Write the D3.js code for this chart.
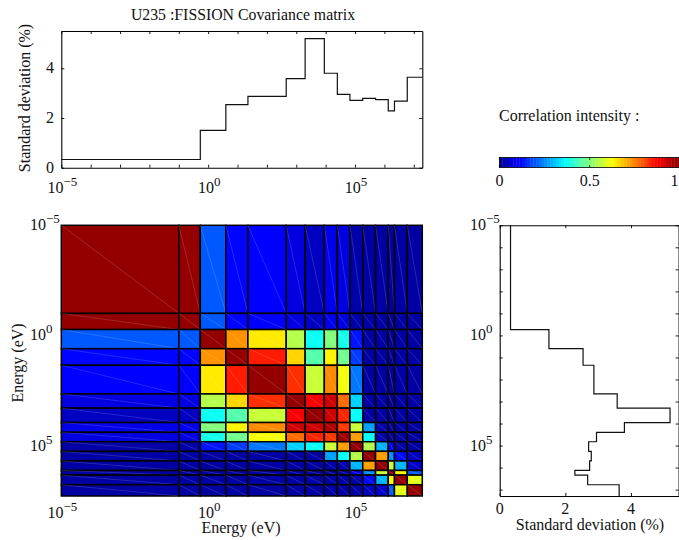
<!DOCTYPE html>
<html><head><meta charset="utf-8">
<script src="https://cdn.jsdelivr.net/npm/d3@7"></script>
<style>
html,body{margin:0;padding:0;background:#fff;overflow:hidden}
svg{display:block}
text{font-family:"Liberation Serif",serif;fill:#111}
</style></head><body>
<svg id="c" width="679" height="540"></svg>
<script>
const titleText = "U235 :FISSION Covariance matrix";
const energyLabel = "Energy (eV)";
const sdLabel = "Standard deviation (%)";
const legendLabel = "Correlation intensity :";
const energyEdges = [1e-5,1e-1,0.54,4,22.6,454,2000,9000,25000,67000,183000,500000,1.35e6,2.2e6,6e6,1.95e7];
const stdDev = [0.33,0.33,1.5,2.54,2.87,3.58,5.19,3.8,2.95,2.71,2.79,2.74,2.29,2.68,3.64];
const decades = [1e-5,1e-4,1e-3,1e-2,1e-1,1e0,1e1,1e2,1e3,1e4,1e5,1e6,1e7];
const labelledDecades = [-5,0,5];
const sdTicks = [0,2,4];
const colorbarTicks = [0,0.5,1];
const correlationRows = [
[.98,.98,.20,.115,.11,.08,.05,.09,.08,.025,.02,.02,.02,.02,.02],
[.98,.98,.20,.115,.11,.08,.05,.09,.08,.025,.02,.02,.02,.02,.02],
[.20,.20,.98,.73,.645,.55,.375,.50,.385,.13,.02,.02,.02,.02,.02],
[.115,.115,.73,.98,.85,.665,.45,.635,.48,.17,.02,.02,.02,.02,.02],
[.11,.11,.645,.85,.98,.83,.57,.74,.615,.23,.02,.02,.02,.02,.02],
[.08,.08,.55,.665,.83,.98,.88,.92,.77,.32,.02,.02,.02,.02,.02],
[.05,.05,.375,.45,.57,.88,.98,.92,.84,.37,.02,.02,.02,.02,.02],
[.09,.09,.50,.635,.74,.92,.92,.95,.82,.57,.27,.03,.02,.02,.02],
[.08,.08,.385,.48,.615,.77,.84,.82,.97,.72,.37,.03,.02,.02,.02],
[.025,.025,.13,.17,.23,.32,.37,.57,.72,.98,.55,.29,.10,.02,.02],
[.02,.02,.02,.02,.02,.02,.02,.27,.37,.55,.98,.72,.25,.12,.05],
[.02,.02,.02,.02,.02,.02,.02,.03,.03,.29,.72,.98,.57,.29,.06],
[.02,.02,.02,.02,.02,.02,.02,.02,.02,.10,.25,.57,.97,.63,.20],
[.02,.02,.02,.02,.02,.02,.02,.02,.02,.02,.12,.29,.63,.98,.60],
[.02,.02,.02,.02,.02,.02,.02,.02,.02,.02,.05,.06,.20,.60,.98]
];
const jetStops = ["#00008f","#0000ff","#00ffff","#ffff00","#ff0000","#800000"];
const jetDomain = [0,.111,.365,.625,.875,1];
const colorSteps = 64;

const svg = d3.select("#c");
const jet = d3.scaleLinear().domain(jetDomain).range(jetStops).clamp(true);

function tx(sel,x,y,txt,size,anchor,rot){
  const t = sel.append("text").attr("x",x).attr("y",y).attr("font-size",size).attr("text-anchor",anchor||"middle").text(txt);
  if(rot) t.attr("transform",`rotate(${rot} ${x} ${y})`);
  return t;
}
function powLabel(sel,x,y,exp,anchor){
  const t = sel.append("text").attr("x",x).attr("y",y).attr("font-size",16).attr("text-anchor",anchor);
  t.append("tspan").text("10");
  t.append("tspan").attr("dy",-7).attr("font-size",13).text(exp<0?"\u2212"+(-exp):exp);
}

// Scales
const L=61.3,R=422.3,HT=225.3,HB=496;
const xE = d3.scaleLog().domain([1e-5,1.95e7]).range([L,R]);
const yE = d3.scaleLog().domain([1e-5,1.95e7]).range([HT,HB]);
const ySd = d3.scaleLinear().domain([0,5.5]).range([167.7,31]);
const xSd = d3.scaleLinear().domain([0,5.5]).range([499.7,680.2]);
const xBar = d3.scaleLinear().domain([0,1]).range([499.4,680]);

// Heatmap
const cells = svg.append("g");
correlationRows.forEach((row,i)=>row.forEach((v,j)=>{
  const x0=xE(energyEdges[j]),x1=xE(energyEdges[j+1]),y0=yE(energyEdges[i]),y1=yE(energyEdges[i+1]);
  cells.append("rect").attr("x",x0).attr("y",y0).attr("width",x1-x0).attr("height",y1-y0)
    .attr("fill",jet(v)).attr("stroke","#000").attr("stroke-width",1.5);
  cells.append("line").attr("x1",x0).attr("y1",y0).attr("x2",x1).attr("y2",y1)
    .attr("stroke","#fff").attr("stroke-opacity",.25).attr("stroke-width",.6);
}));
labelledDecades.forEach(e=>{
  powLabel(svg,xE(10**e)+1,518,e,"middle");
  powLabel(svg,30,yE(10**e)+5,e,"start");
  powLabel(svg,470,yE(10**e)+5,e,"start");
});

// Axis helper: frame with inward mirrored ticks
function frame(x0,x1,y0,y1,xs,xVals,ys,yVals,sw){
  const g=svg.append("g");
  const mk=(ax,tr)=>{const a=g.append("g").attr("transform",tr).call(ax);a.selectAll("text").remove();a.selectAll("line").attr("stroke","#000").attr("stroke-width",.9);a.select(".domain").attr("stroke","#000").attr("stroke-width",sw||1.1);};
  mk(d3.axisBottom(xs).tickValues(xVals).tickFormat("").tickSizeInner(-3).tickSizeOuter(0),`translate(0,${y1})`);
  mk(d3.axisTop(xs).tickValues(xVals).tickFormat("").tickSizeInner(-3).tickSizeOuter(0),`translate(0,${y0})`);
  mk(d3.axisLeft(ys).tickValues(yVals).tickFormat("").tickSizeInner(-3).tickSizeOuter(0),`translate(${x0},0)`);
  mk(d3.axisRight(ys).tickValues(yVals).tickFormat("").tickSizeInner(-3).tickSizeOuter(0),`translate(${x1},0)`);
}

// Top step plot
frame(L,R,31,167.7,xE,decades,ySd,sdTicks);
const topPts = energyEdges.map((e,i)=>[e,stdDev[Math.min(i,stdDev.length-1)]]);
svg.append("path").attr("fill","none").attr("stroke","#111").attr("stroke-width",1.2)
  .attr("d",d3.line().x(d=>xE(d[0])).y(d=>ySd(d[1])).curve(d3.curveStepAfter)(topPts));
sdTicks.forEach(v=>tx(svg,54,ySd(v)+5,v,16,"end"));
labelledDecades.forEach(e=>powLabel(svg,xE(10**e)+1,193,e,"middle"));
tx(svg,243,20,titleText,15.8);
tx(svg,30,98,sdLabel,16,"middle",-90);

// Right step plot
frame(499.7,678.6,HT,HB,xSd,sdTicks,yE,decades);
svg.append("path").attr("fill","none").attr("stroke","#111").attr("stroke-width",1.2)
  .attr("d",d3.line().x(d=>xSd(d[1])).y(d=>yE(d[0])).curve(d3.curveStepBefore)(topPts));
sdTicks.forEach(v=>tx(svg,xSd(v),514,v,16));
tx(svg,590,530,sdLabel,16);

// Labels of heatmap
tx(svg,241,533,energyLabel,16);
tx(svg,23,363,energyLabel,16,"middle",-90);

// Colorbar
tx(svg,499,121,legendLabel,16,"start");
const barSteps = d3.range(colorSteps);
const bw=(xBar(1)-xBar(0))/colorSteps;
svg.append("g").selectAll("rect").data(barSteps).join("rect")
  .attr("x",s=>xBar(s/colorSteps)).attr("y",157.5).attr("width",bw+.3).attr("height",10)
  .attr("fill",s=>jet((s+.5)/colorSteps));
svg.append("rect").attr("x",xBar(0)).attr("y",157.5).attr("width",xBar(1)-xBar(0)).attr("height",10).attr("fill","none").attr("stroke","#000").attr("stroke-width",.8);
colorbarTicks.forEach(v=>{
  if(v===1) tx(svg,678.5,186,v,16,"end"); else tx(svg,xBar(v),186,v,16);
  svg.append("line").attr("x1",xBar(v)).attr("x2",xBar(v)).attr("y1",157.5).attr("y2",160).attr("stroke","#000").attr("stroke-width",.7);
  svg.append("line").attr("x1",xBar(v)).attr("x2",xBar(v)).attr("y1",165).attr("y2",167.5).attr("stroke","#000").attr("stroke-width",.7);
});
</script></body></html>
